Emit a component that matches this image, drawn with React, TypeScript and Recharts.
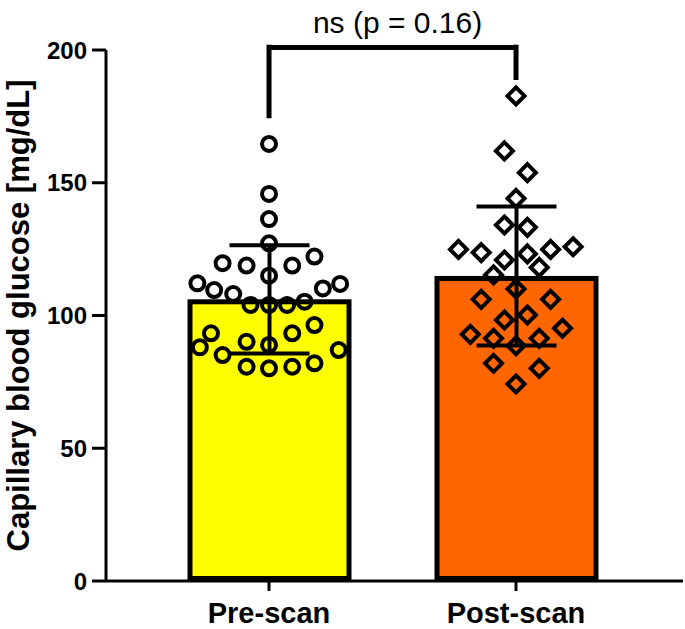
import React from "react";
import {
  ComposedChart,
  Bar,
  Scatter,
  ErrorBar,
  XAxis,
  YAxis,
  ReferenceLine,
} from "recharts";

const categories = ["Pre-scan", "Post-scan"];
const categoryX = [1, 2];
const means = [106.1, 114.9];
const sds = [20.4, 26.2];
const barColors = ["#FFFF00", "#FF6600"];
const yTicks = [0, 50, 100, 150, 200];

// individual values and horizontal jitter (in category units)
const preValues = [
  164.6, 145.8, 136.3, 127.2, 119.7, 118.8, 118.8, 122.2, 115.0, 112.1,
  109.6, 108.1, 110.2, 111.9, 104.0, 104.0, 104.0, 105.2, 93.3, 88.0,
  85.1, 90.1, 88.9, 93.3, 96.4, 87.0, 80.7, 80.1, 80.7, 82.0,
];
const preJitter = [
  0, 0, 0, 0, -0.188, -0.091, 0.094, 0.184, 0, -0.29,
  -0.222, -0.145, 0.218, 0.288, -0.075, 0, 0.073, 0.144, -0.235, -0.28,
  -0.188, -0.091, 0, 0.094, 0.184, 0.282, -0.091, 0, 0.094, 0.184,
];
const postValues = [
  182.7, 162.0, 153.8, 144.1, 134.1, 133.2, 124.9, 123.7, 120.9, 123.2,
  124.9, 125.9, 118.1, 115.3, 110.0, 106.1, 106.1, 100.2, 98.3, 95.2,
  92.9, 91.4, 91.4, 88.6, 82.0, 80.1, 74.2,
];
const postJitter = [
  0, -0.047, 0.046, 0, -0.047, 0.046, -0.233, -0.141, -0.047, 0.046,
  0.14, 0.231, 0.094, -0.091, 0, -0.141, 0.14, 0.046, -0.047, 0.188,
  -0.185, -0.091, 0.094, 0, -0.091, 0.094, 0,
];

const pValueText = "ns (p = 0.16)";
const yLabel = "Capillary blood glucose [mg/dL]";

const barData = categories.map((name, i) => ({
  name,
  mean: means[i],
  sd: sds[i],
  fill: barColors[i],
}));
const preData = preValues.map((y, i) => ({ x: categoryX[0] + preJitter[i], y }));
const postData = postValues.map((y, i) => ({ x: categoryX[1] + postJitter[i], y }));

const FONT = '"Liberation Sans", Arial, Helvetica, sans-serif';
const SW = 5;

const BarShape = (props: any) => {
  const { x, y, width, height, payload } = props;
  return (
    <rect
      x={x + SW / 2}
      y={y + SW / 2}
      width={Math.max(width - SW, 0)}
      height={Math.max(height - SW, 0)}
      fill={payload.fill}
      stroke="#000"
      strokeWidth={SW}
    />
  );
};

const CircleShape = (props: any) => (
  <circle cx={props.cx} cy={props.cy} r={7} fill="none" stroke="#000" strokeWidth={4} />
);

const DiamondShape = (props: any) => {
  const { cx, cy } = props;
  const d = 8.5;
  return (
    <path
      d={`M${cx},${cy - d}L${cx + d},${cy}L${cx},${cy + d}L${cx - d},${cy}Z`}
      fill="none"
      stroke="#000"
      strokeWidth={4}
    />
  );
};

const YLabel = (props: any) => {
  const vb = props.viewBox || { x: 0, y: 50, width: 106, height: 531 };
  const cx = 29;
  const cy = vb.y + vb.height / 2;
  return (
    <text
      x={cx}
      y={cy}
      transform={`rotate(-90 ${cx} ${cy})`}
      textAnchor="middle"
      fontFamily={FONT}
      fontWeight="bold"
      fontSize={31}
      fill="#000"
    >
      {yLabel}
    </text>
  );
};

const PLabel = (props: any) => {
  const vb = props.viewBox || { x: 0, y: 0, width: 0 };
  return (
    <text
      x={vb.x + vb.width / 2 + 5}
      y={vb.y - 15}
      textAnchor="middle"
      fontFamily={FONT}
      fontSize={30}
      fill="#000"
    >
      {pValueText}
    </text>
  );
};

export default function App() {
  return (
    <div style={{ position: "absolute", left: 0, top: 0, background: "#fff" }}>
      <ComposedChart
        width={685}
        height={629}
        data={barData}
        margin={{ top: 50, right: 2, bottom: 0, left: 0 }}
      >
        <XAxis
          xAxisId="cat"
          type="category"
          dataKey="name"
          padding={{ left: 39.5, right: 43.5 }}
          interval={0}
          height={48}
          axisLine={{ stroke: "#000", strokeWidth: 3 }}
          tickLine={{ stroke: "#000", strokeWidth: 3 }}
          tickSize={10}
          tickMargin={11}
          tick={{ fill: "#000", fontSize: 29, fontWeight: "bold", fontFamily: FONT }}
        />
        <XAxis
          xAxisId="num"
          type="number"
          dataKey="x"
          domain={[0.34, 2.676]}
          allowDataOverflow
          hide
        />
        <YAxis
          type="number"
          domain={[0, 200]}
          ticks={yTicks}
          interval={0}
          width={106}
          axisLine={{ stroke: "#000", strokeWidth: 3 }}
          tickLine={{ stroke: "#000", strokeWidth: 3 }}
          tickSize={14}
          tickMargin={5}
          tick={{ fill: "#000", fontSize: 24, fontWeight: "bold", fontFamily: FONT }}
          label={<YLabel />}
        />
        <Bar
          xAxisId="cat"
          dataKey="mean"
          barSize={164}
          shape={<BarShape />}
          isAnimationActive={false}
        >
          <ErrorBar dataKey="sd" direction="y" width={40} stroke="#000" strokeWidth={4} />
        </Bar>
        <Scatter xAxisId="num" data={preData} dataKey="y" shape={<CircleShape />} isAnimationActive={false} />
        <Scatter xAxisId="num" data={postData} dataKey="y" shape={<DiamondShape />} isAnimationActive={false} />
        <ReferenceLine
          xAxisId="num"
          segment={[{ x: 1, y: 200.9 }, { x: 2, y: 200.9 }]}
          ifOverflow="visible"
          stroke="#000"
          strokeWidth={5}
          label={<PLabel />}
        />
        <ReferenceLine
          xAxisId="num"
          segment={[{ x: 1, y: 202 }, { x: 1, y: 174.3 }]}
          ifOverflow="visible"
          stroke="#000"
          strokeWidth={5}
        />
        <ReferenceLine
          xAxisId="num"
          segment={[{ x: 2, y: 202 }, { x: 2, y: 188.7 }]}
          ifOverflow="visible"
          stroke="#000"
          strokeWidth={5}
        />
      </ComposedChart>
    </div>
  );
}
